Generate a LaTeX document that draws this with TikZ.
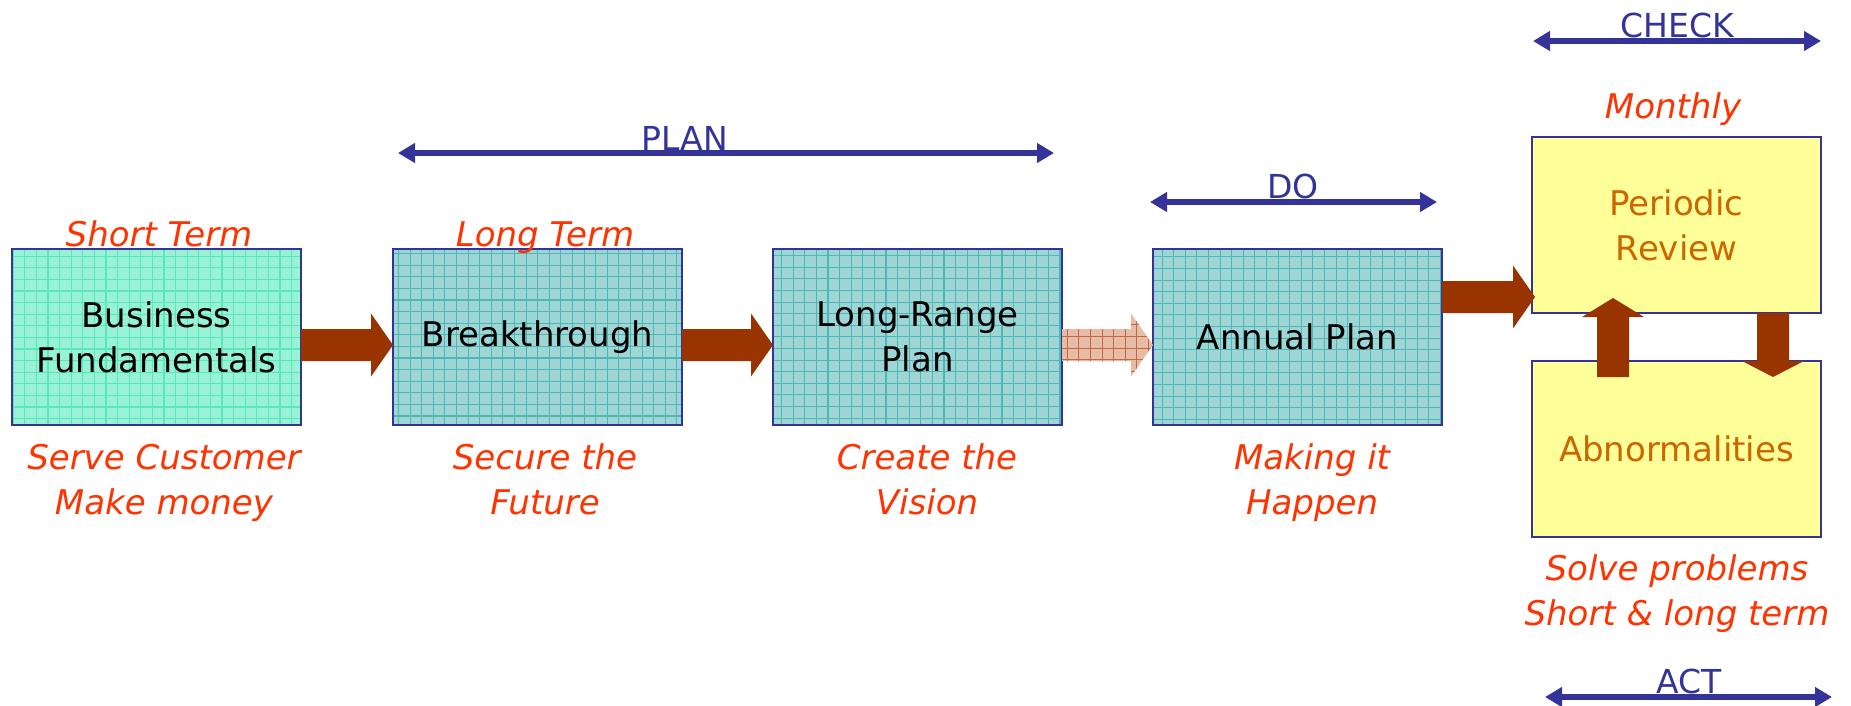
\documentclass[tikz,border=0pt]{standalone}
\usepackage{fontspec}
\setmainfont{DejaVu Sans}
\usetikzlibrary{calc,arrows.meta}
\definecolor{navy}{HTML}{333399}
\definecolor{redlbl}{HTML}{FF3300}
\definecolor{brownA}{HTML}{993300}
\definecolor{yellowF}{HTML}{FFFF99}
\definecolor{orangeT}{HTML}{CC6600}
\definecolor{mintF}{HTML}{98F2D6}
\definecolor{mintL}{HTML}{5CE6BC}
\definecolor{tealF}{HTML}{9ED6D6}
\definecolor{tealL}{HTML}{4FB6B6}
\definecolor{fadeF}{HTML}{E8BBA6}
\definecolor{fadeL}{HTML}{BF6A45}
\newcommand\harr[3]{%
  \path[#1] ($(#2)+(0,-16)$) -- ($(#3)+(-22,-16)$) -- ($(#3)+(-22,-31.5)$) -- (#3)
    -- ($(#3)+(-22,31.5)$) -- ($(#3)+(-22,16)$) -- ($(#2)+(0,16)$) -- cycle;}
\newcommand\varr[4]{%
  \path[#1] ($(#2)+(-16,0)$) -- ($(#3)+(-16,#4)$) -- ($(#3)+(-31,#4)$) -- (#3)
    -- ($(#3)+(31,#4)$) -- ($(#3)+(16,#4)$) -- ($(#2)+(16,0)$) -- cycle;}
\begin{document}
\begin{tikzpicture}[x=1pt,y=-1pt,
  box/.style={draw=navy, line width=2.8pt, minimum width=289pt, minimum height=176pt,
    inner sep=0pt, outer sep=0pt, align=center, font=\fontsize{34}{45}\selectfont},
  mintbox/.style={box, fill=mintF, path picture={\draw[mintL, line width=1.1pt, step=11.6pt]
    (path picture bounding box.south west) grid (path picture bounding box.north east);}},
  tealbox/.style={box, fill=tealF, path picture={\draw[tealL, line width=1.1pt, step=11.6pt]
    (path picture bounding box.south west) grid (path picture bounding box.north east);}},
  ybox/.style={box, fill=yellowF, text=orangeT},
  brownarr/.style={fill=brownA},
  fadearr/.style={fill=fadeF, path picture={\draw[fadeL, line width=0.8pt, step=11.6pt]
    (path picture bounding box.south west) grid (path picture bounding box.north east);}},
  lbl/.style={text=redlbl, font=\fontsize{34}{45}\selectfont\itshape, align=center, inner sep=0pt},
  phase/.style={text=navy, font=\fontsize{33}{40}\selectfont, inner sep=0pt},
  dbl/.style={draw=navy, line width=6pt,
    arrows={Triangle[length=17pt,width=19pt]-Triangle[length=17pt,width=19pt]}}
]
\useasboundingbox (0,0) rectangle (1851,705);

% boxes
\node[mintbox] (b1) at (156.5,337) {Business\\Fundamentals};
\node[tealbox] (b2) at (537.5,337) {Breakthrough};
\node[tealbox] (b3) at (917.5,337) {Long-Range\\Plan};
\node[tealbox] (b4) at (1297.5,337) {Annual Plan};
\node[ybox] (pr) at (1676.5,225) {Periodic\\Review};
\node[ybox] (ab) at (1676.5,449) {Abnormalities};

% block arrows
\coordinate (a1s) at ($(b1.east)+(0,8)$);
\coordinate (a1t) at ($(b2.west)+(0,8)$);
\coordinate (a2s) at ($(b2.east)+(0,8)$);
\coordinate (a2t) at ($(b3.west)+(0,8)$);
\coordinate (a3s) at ($(b3.east)+(0,8)$);
\coordinate (a3t) at ($(b4.west)+(0,8)$);
\coordinate (a4s) at ($(b4.east)+(0,-40)$);
\coordinate (a4t) at ($(pr.west |- a4s)+(3,0)$);
\harr{brownarr}{a1s}{a1t}
\harr{brownarr}{a2s}{a2t}
\harr{fadearr}{a3s}{a3t}
\harr{brownarr}{a4s}{a4t}

\coordinate (us) at ($(ab.north)+(-63.5,16)$);
\coordinate (ut) at ($(pr.south)+(-63.5,-15)$);
\coordinate (ds) at ($(pr.south)+(96.5,0)$);
\coordinate (dt) at ($(ab.north)+(96.5,16)$);
\varr{brownarr}{us}{ut}{19}
\varr{brownarr}{ds}{dt}{-16}

% phase arrows
\coordinate (planL) at (398,153);
\coordinate (planR) at (1054,153);
\coordinate (doL) at (1150,202);
\coordinate (doR) at (1437,202);
\coordinate (chkL) at (1533,41);
\coordinate (chkR) at (1821,41);
\coordinate (actL) at (1545,697);
\coordinate (actR) at (1832,697);
\draw[dbl] (planL) -- (planR);
\draw[dbl] (doL) -- (doR);
\draw[dbl] (chkL) -- (chkR);
\draw[dbl] (actL) -- (actR);
\node[phase, anchor=base] (plant) at (685,150) {PLAN};
\node[phase, anchor=base] (dot) at (1293,198) {DO};
\node[phase, anchor=base] (chkt) at (1677,37) {CHECK};
\node[phase, anchor=base] (actt) at (1689,693) {ACT};

% labels
\node[lbl, anchor=base] (st) at (159,246) {Short Term};
\node[lbl, anchor=base] (lt) at (545,246) {Long Term};
\node[lbl, anchor=base] (mo) at (1673,118) {Monthly};
\node[lbl, anchor=base] (sc) at (164,514) {Serve Customer\\Make money};
\node[lbl, anchor=base] (sf) at (545,514) {Secure the\\Future};
\node[lbl, anchor=base] (cv) at (927,514) {Create the\\Vision};
\node[lbl, anchor=base] (mh) at (1312,514) {Making it\\Happen};
\node[lbl, anchor=base] (sp) at (1677,625) {Solve problems\\Short \& long term};
\end{tikzpicture}
\end{document}
